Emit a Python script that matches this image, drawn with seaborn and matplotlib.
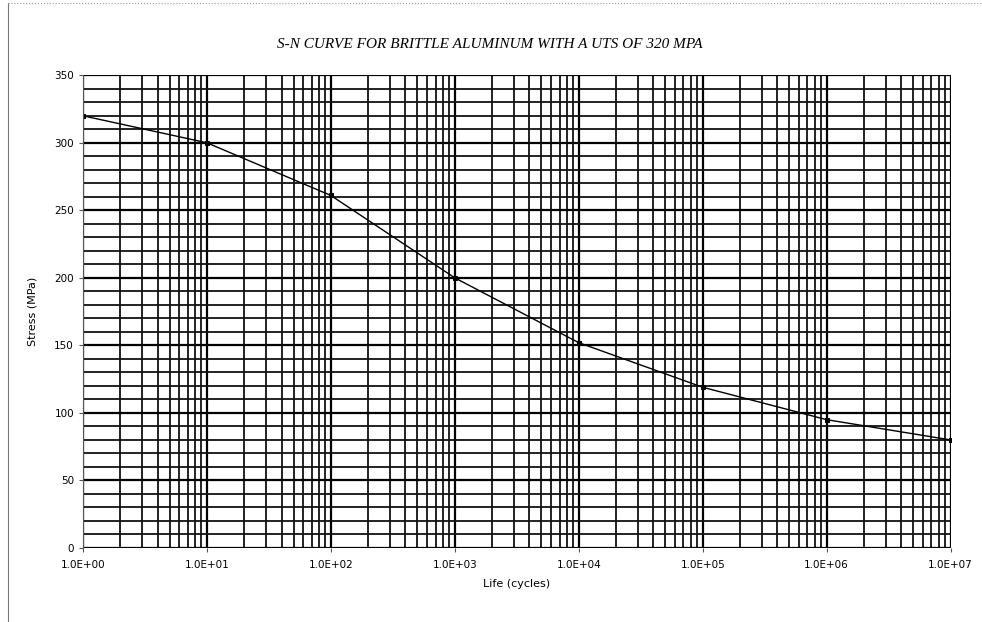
import matplotlib
matplotlib.use("Agg")
import matplotlib.pyplot as plt
from matplotlib.ticker import LogLocator, FixedLocator, FuncFormatter, NullFormatter
from matplotlib.lines import Line2D
import seaborn as sns
import pandas as pd
import numpy as np

sns.set_style("white")

# data
life_cycles = [1e0, 1e1, 1e2, 1e3, 1e4, 1e5, 1e6, 1e7]
stress_mpa = [320, 300, 261, 200, 152, 119, 95, 80]

y_ticks = [0, 50, 100, 150, 200, 250, 300, 350]
x_tick_labels = ["1.0E+00", "1.0E+01", "1.0E+02", "1.0E+03",
                 "1.0E+04", "1.0E+05", "1.0E+06", "1.0E+07"]

df = pd.DataFrame({"life": life_cycles, "stress": stress_mpa})

fig = plt.figure(figsize=(9.82, 6.22), dpi=100)
ax = fig.add_axes([0.0845, 0.119, 0.8835, 0.760])

sns.lineplot(data=df, x="life", y="stress", ax=ax, color="black",
             lw=1.0, marker="s", markersize=3.5, markeredgecolor="black")

ax.set_xscale("log")
ax.set_xlim(1e0, 1e7)
ax.set_ylim(0, 350)

ax.xaxis.set_major_locator(FixedLocator(life_cycles))
ax.xaxis.set_major_formatter(FuncFormatter(lambda v, p: x_tick_labels[int(round(np.log10(v)))]))
ax.xaxis.set_minor_locator(LogLocator(base=10, subs=np.arange(2, 10)))
ax.xaxis.set_minor_formatter(NullFormatter())
ax.yaxis.set_major_locator(FixedLocator(y_ticks))
ax.yaxis.set_minor_locator(FixedLocator(np.arange(0, 351, 10)))

# heavy graph-paper grid
ax.grid(which="major", color="black", lw=1.6)
ax.grid(which="minor", color="#111111", lw=1.3)
ax.set_axisbelow(True)

for s in ax.spines.values():
    s.set_visible(False)
ax.spines["left"].set_visible(True)
ax.spines["left"].set_color("#555555")
ax.spines["left"].set_linewidth(0.8)

ax.tick_params(axis="both", which="major", labelsize=7.5, length=3,
               direction="out", color="#555555", labelcolor="black",
               left=True, bottom=True)
ax.tick_params(axis="both", which="minor", length=0)
ax.tick_params(axis="x", pad=6)

ax.set_xlabel("Life (cycles)", fontsize=8, labelpad=6, color="black")
ax.set_ylabel("Stress (MPa)", fontsize=8, labelpad=12, color="black")

fig.text(0.499, 0.928, "S-N CURVE FOR BRITTLE ALUMINUM WITH A UTS OF 320 MPA",
         ha="center", va="center", fontsize=11, style="italic",
         family="Liberation Serif", color="black")

# page border from the scan
fig.add_artist(Line2D([0.008, 0.008], [0.0, 0.995], transform=fig.transFigure,
                      color="#777777", lw=0.8))
fig.add_artist(Line2D([0.008, 1.0], [0.995, 0.995], transform=fig.transFigure,
                      color="#999999", lw=0.8, ls=":"))

fig.savefig("out.png", dpi=100)
